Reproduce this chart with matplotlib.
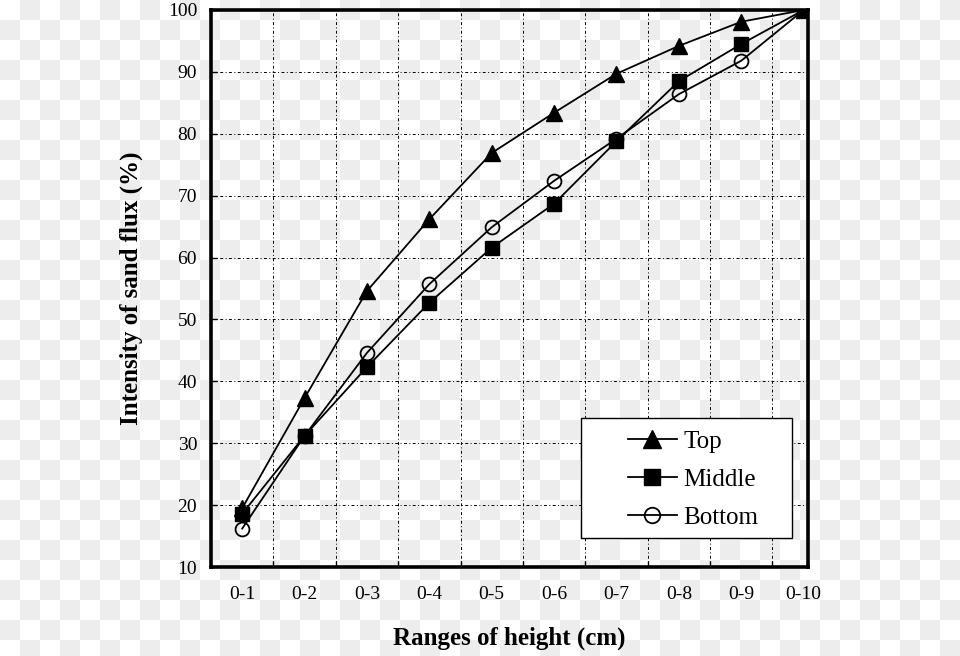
import numpy as np
import matplotlib
matplotlib.use("Agg")
import matplotlib.pyplot as plt
from matplotlib.ticker import FixedLocator
from matplotlib.patches import Rectangle

plt.rcParams['font.family'] = ['Liberation Serif', 'DejaVu Serif']

# data
ranges = ['0-1', '0-2', '0-3', '0-4', '0-5', '0-6', '0-7', '0-8', '0-9', '0-10']
top = [19.5, 37.3, 54.6, 66.2, 76.9, 83.4, 89.7, 94.2, 98.1, 100.0]
middle = [18.6, 31.2, 42.3, 52.7, 61.6, 68.7, 78.8, 88.5, 94.5, 100.0]
bottom = [16.2, 31.2, 44.6, 55.7, 64.9, 72.4, 79.2, 86.4, 91.8, 100.0]

fig = plt.figure(figsize=(9.6, 6.56), dpi=100)

# transparent-style checkerboard background
H, W = 656, 960
yy, xx = np.mgrid[0:H, 0:W]
chk = ((xx // 20 + yy // 20) % 2).astype(float)
bg = np.where(chk[..., None] == 1, 0.93, 1.0) * np.ones((H, W, 3))
fig.figimage(bg, xo=0, yo=0, origin='upper', zorder=-10)
fig.patch.set_alpha(0)

ax = fig.add_axes([211 / 960, 89 / 656, 597 / 960, 557 / 656])
ax.set_zorder(5)
ax.set_facecolor('none')

x = np.arange(len(ranges))
ax.plot(x, top, color='black', lw=1.3, marker='^', ms=12, mfc='black', mec='black', label='Top', zorder=3)
ax.plot(x, middle, color='black', lw=1.3, marker='s', ms=10, mfc='black', mec='black', label='Middle', zorder=3)
ax.plot(x, bottom, color='black', lw=1.3, marker='o', ms=10, mfc='none', mec='black', mew=1.3, label='Bottom', zorder=3)

ax.set_xlim(-0.5, 9.07)
ax.set_ylim(10, 100)

# category labels centred, ticks/grid between categories
ax.set_xticks(x)
ax.set_xticklabels(ranges, fontsize=14)
ax.xaxis.set_minor_locator(FixedLocator(np.arange(0.5, 9.0, 1.0)))
ax.tick_params(axis='x', which='major', length=0, pad=14)
ax.tick_params(axis='x', which='minor', direction='in', length=4, width=1)
ax.set_yticks(np.arange(10, 101, 10))
ax.tick_params(axis='y', direction='in', length=4, width=1, labelsize=14, pad=10)

dash = (0, (3, 2.5, 1, 2.5))
for v in np.arange(0.5, 9.0, 1.0):
    ax.axvline(v, color='black', lw=0.7, ls=dash, zorder=1)
for v in np.arange(20, 100, 10):
    ax.axhline(v, color='black', lw=0.7, ls=dash, zorder=1)

for s in ax.spines.values():
    s.set_linewidth(2.6)

ax.set_xlabel('Ranges of height (cm)', fontsize=18, fontweight='bold', labelpad=17)
ax.set_ylabel('Intensity of sand flux (%)', fontsize=18, fontweight='bold', labelpad=18)

# legend box, wider on the left than matplotlib's own frame
ax.add_patch(Rectangle((0.6198, 0.0521), 0.3534, 0.2154, transform=ax.transAxes,
                       facecolor='white', edgecolor='black', lw=1.0, zorder=8))
leg = ax.legend(loc='center left', bbox_to_anchor=(0.6985, 0.1565), fontsize=18,
                frameon=False, handlelength=1.95, borderpad=0, labelspacing=0.62,
                handletextpad=0.25, borderaxespad=0, markerscale=1.12)
leg.set_zorder(10)

fig.savefig('out.png', dpi=100)
